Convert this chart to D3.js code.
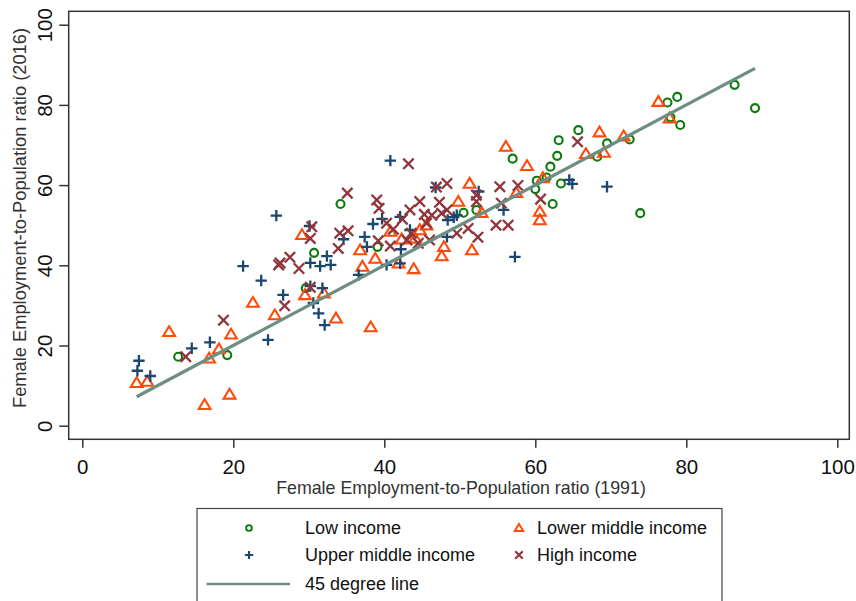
<!DOCTYPE html>
<html><head><meta charset="utf-8">
<script src="https://cdn.jsdelivr.net/npm/d3@7"></script>
<style>body{margin:0;background:#fff;}svg{display:block;font-family:"Liberation Sans",Arial,sans-serif;}</style>
</head><body>
<svg id="c" width="856" height="601"></svg>
<script>
// ---- Data (1991 ratio, 2016 ratio) ----
const lowIncome = [
 [12.7,17.2],[19.2,17.6],[29.6,34.3],[30.7,43.1],[34.2,55.3],[39.1,44.6],[50.5,53.1],[52.2,53.8],
 [57.0,66.6],[60.0,59.0],[60.2,61.1],[61.5,61.9],[62.0,64.6],[62.3,55.3],[62.9,67.3],[63.1,71.2],
 [63.4,60.4],[65.7,73.7],[68.2,67.1],[69.5,70.4],[72.5,71.4],[73.9,53.0],[77.5,80.6],[77.9,76.9],
 [78.8,82.0],[79.2,75.0],[86.4,85.0],[89.1,79.2]
];
const lowerMiddleIncome = [
 [7.2,10.7],[8.6,11.0],[11.5,23.4],[16.2,5.2],[16.8,16.8],[18.1,19.1],[19.5,7.8],[19.7,22.8],
 [22.6,30.7],[25.5,27.6],[29.1,47.6],[29.5,32.6],[32.0,33.0],[33.6,26.8],[36.8,43.8],[37.1,39.7],
 [38.2,24.6],[38.8,41.7],[40.8,48.4],[41.9,40.5],[42.3,46.5],[43.9,39.1],[44.1,46.7],[44.7,48.8],
 [45.6,50.0],[47.6,42.3],[47.9,44.6],[49.8,55.9],[51.3,60.4],[51.6,43.8],[52.9,53.1],[56.1,69.6],
 [57.5,58.1],[58.9,64.8],[60.6,53.4],[60.6,51.3],[61.0,61.8],[66.7,67.8],[68.5,73.2],[69.1,68.1],
 [71.7,72.2],[76.3,80.8],[77.8,76.7]
];
const upperMiddleIncome = [
 [7.3,13.7],[7.5,16.2],[9.0,12.4],[14.5,19.3],[16.9,20.8],[21.3,39.8],[23.7,36.2],[24.6,21.4],
 [25.7,52.4],[26.6,32.6],[30.1,49.8],[30.2,40.6],[30.2,34.8],[30.6,30.6],[31.3,28.0],[31.5,39.8],
 [31.8,34.3],[32.1,25.1],[32.4,42.3],[32.9,40.1],[34.6,46.5],[36.6,37.6],[37.4,47.1],[37.7,44.6],
 [38.5,50.3],[39.7,51.6],[40.3,40.1],[40.8,66.1],[42.1,40.5],[42.1,52.1],[42.2,44.0],[43.4,48.8],
 [46.8,59.4],[48.3,47.1],[48.4,51.3],[49.2,52.0],[49.6,52.5],[52.5,58.4],[55.8,53.8],[57.3,42.1],
 [64.5,61.3],[64.9,60.3],[69.5,59.6]
];
const highIncome = [
 [13.7,17.2],[18.7,26.3],[26.0,40.1],[26.2,40.6],[26.8,29.9],[27.5,42.0],[28.7,39.2],[30.2,34.5],
 [30.2,46.7],[30.4,49.6],[33.9,44.2],[34.1,48.0],[35.1,58.0],[35.2,48.6],[39.0,56.3],[39.2,46.1],
 [39.3,54.2],[40.3,50.5],[40.8,44.8],[41.2,49.0],[42.4,51.5],[43.0,46.3],[43.2,65.3],[43.4,53.8],
 [43.6,48.0],[44.5,45.5],[44.7,55.9],[45.3,52.7],[45.6,50.5],[46.0,46.3],[46.3,52.5],[46.9,59.5],
 [47.3,55.7],[47.6,53.0],[48.3,60.4],[48.3,53.8],[49.6,48.0],[51.1,49.2],[52.2,57.5],[52.2,55.9],
 [52.4,47.0],[54.8,50.0],[55.3,59.6],[55.5,55.5],[56.4,50.0],[57.7,59.9],[60.7,56.5],[65.6,70.8]
];
const lineRange = [7.2, 89.1];
const tickValues = [0,20,40,60,80,100];
const legendLabels = ["Low income","Lower middle income","Upper middle income","High income","45 degree line"];
const xTitle = "Female Employment-to-Population ratio (1991)";
const yTitle = "Female Employment-to-Population ratio (2016)";

// ---- Layout ----
const frame = {l:68.7, r:849.3, t:11.3, b:439.3};
const x = d3.scaleLinear().domain([0,100]).range([82.3, 837.3]);
const y = d3.scaleLinear().domain([0,100]).range([425.7, 24.7]);
const col = {low:"#0c7a0c", lm:"#ff4a0a", um:"#1a476f", hi:"#90353b", line:"#6e8e84", axis:"#333"};

const svg = d3.select("#c");
svg.append("rect").attr("width",856).attr("height",601).attr("fill","#fff");

// frame
svg.append("rect").attr("x",frame.l).attr("y",frame.t)
  .attr("width",frame.r-frame.l).attr("height",frame.b-frame.t)
  .attr("fill","none").attr("stroke",col.axis).attr("stroke-width",1.5);

// axes
const yAxis = svg.append("g").attr("transform",`translate(${frame.l},0)`)
  .call(d3.axisLeft(y).tickValues(tickValues).tickSize(9.5).tickFormat(d3.format("d")));
yAxis.select(".domain").remove();
yAxis.selectAll("line").attr("stroke",col.axis).attr("stroke-width",1.5);
yAxis.selectAll("text").attr("x",null).attr("dy",null)
  .attr("transform","rotate(-90)").attr("y",-17).attr("x",0)
  .attr("text-anchor","middle").attr("fill","#111").style("font-size","20.5px")
  .style("font-family","'Liberation Sans',Arial,sans-serif");

const xAxis = svg.append("g").attr("transform",`translate(0,${frame.b})`)
  .call(d3.axisBottom(x).tickValues(tickValues).tickSize(8.5).tickFormat(d3.format("d")));
xAxis.select(".domain").remove();
xAxis.selectAll("line").attr("stroke",col.axis).attr("stroke-width",1.5);
xAxis.selectAll("text").attr("dy",null).attr("y",35).attr("fill","#111")
  .style("font-size","20.5px").style("font-family","'Liberation Sans',Arial,sans-serif");

// titles
svg.append("text").attr("x",461).attr("y",494).attr("text-anchor","middle")
  .attr("fill","#333").style("font-size","17.8px").text(xTitle);
svg.append("text").attr("transform","translate(26,218) rotate(-90)").attr("text-anchor","middle")
  .attr("fill","#333").style("font-size","18.3px").text(yTitle);

// marker generators
function circle(g, s){ g.append("circle").attr("r",4*s).attr("fill","none").attr("stroke",col.low).attr("stroke-width",2.1*Math.min(1,s+0.2)); }
function tri(g, s){ const h=5.6*s; g.append("path").attr("d",`M0,${-h}L${h*1.05},${h*0.75}L${-h*1.05},${h*0.75}Z`).attr("fill","none").attr("stroke",col.lm).attr("stroke-width",2.1*Math.min(1,s+0.2)).attr("stroke-linejoin","miter"); }
function plus(g, s){ const h=5.7*s; g.append("path").attr("d",`M${-h},0H${h}M0,${-h}V${h}`).attr("stroke",col.um).attr("stroke-width",2.3*Math.min(1,s+0.2)); }
function cross(g, s){ const h=5.2*s; g.append("path").attr("d",`M${-h},${-h}L${h},${h}M${-h},${h}L${h},${-h}`).attr("stroke",col.hi).attr("stroke-width",2.3*Math.min(1,s+0.2)); }

const series = [[lowIncome,circle],[lowerMiddleIncome,tri],[upperMiddleIncome,plus],[highIncome,cross]];
const plot = svg.append("g");
series.forEach(([data,fn])=>{
  plot.append("g").selectAll("g").data(data).join("g")
    .attr("transform",d=>`translate(${x(d[0])},${y(d[1])})`)
    .each(function(){ fn(d3.select(this),1); });
});

// 45 degree line
svg.append("line").attr("x1",x(lineRange[0])).attr("y1",y(lineRange[0]))
  .attr("x2",x(lineRange[1])).attr("y2",y(lineRange[1]))
  .attr("stroke",col.line).attr("stroke-width",3.3);

// legend
const lg = svg.append("g");
lg.append("rect").attr("x",197).attr("y",508.5).attr("width",525).attr("height",110)
  .attr("fill","#fff").attr("stroke","#444").attr("stroke-width",1.2);
const rows = [
  {fn:circle, mx:249, tx:305, yy:528, label:legendLabels[0]},
  {fn:tri,    mx:519, tx:537, yy:528, label:legendLabels[1]},
  {fn:plus,   mx:249, tx:305, yy:555, label:legendLabels[2]},
  {fn:cross,  mx:519, tx:537, yy:555, label:legendLabels[3]}
];
rows.forEach(r=>{
  const g = lg.append("g").attr("transform",`translate(${r.mx},${r.yy})`);
  r.fn(g,0.72);
  lg.append("text").attr("x",r.tx).attr("y",r.yy).attr("dy","0.35em").attr("fill","#111")
    .style("font-size","18px").text(r.label);
});
lg.append("line").attr("x1",206.5).attr("x2",290).attr("y1",584).attr("y2",584)
  .attr("stroke",col.line).attr("stroke-width",2.5);
lg.append("text").attr("x",305).attr("y",584).attr("dy","0.35em").attr("fill","#111")
  .style("font-size","18px").text(legendLabels[4]);
</script>
</body></html>
